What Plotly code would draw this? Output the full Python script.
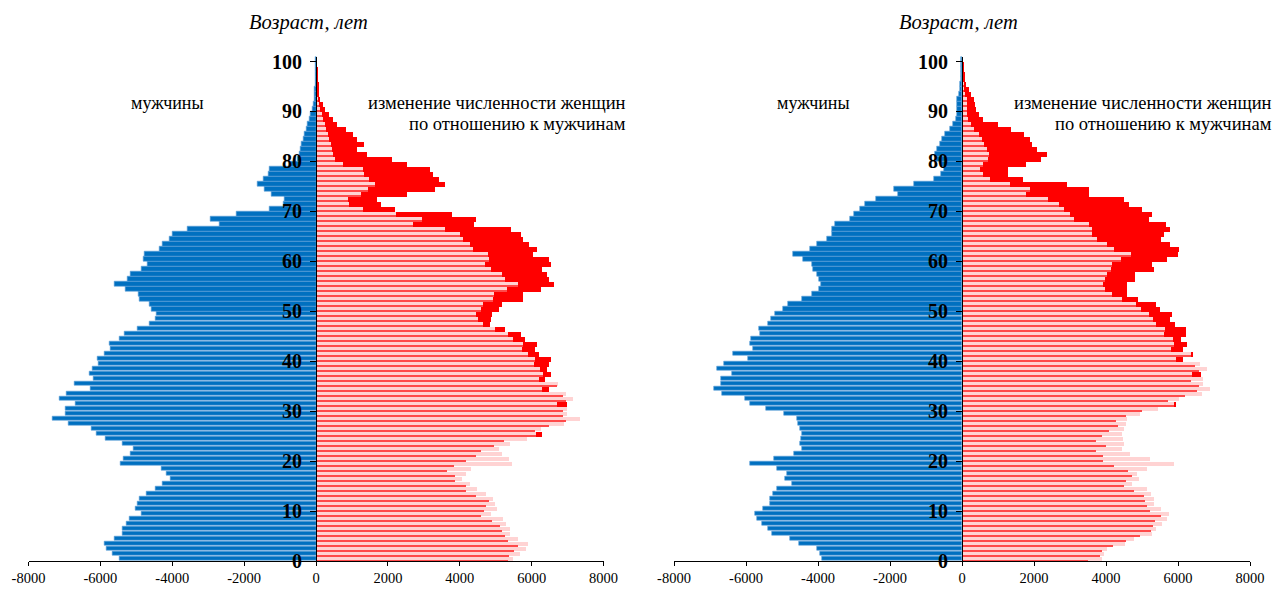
import plotly.graph_objects as go

ages = list(range(0, 101))

men_left = [5470, 5650, 5820, 5880, 5620, 5390, 5390, 5280, 5200, 4860,
            5020, 4960, 4900, 4730, 4460, 4280, 4060, 4170, 4290, 5450,
            5370, 5160, 5080, 5390, 5870, 6110, 6250, 6890, 7320, 6960,
            6980, 6690, 7150, 6950, 6280, 6730, 6190, 6300, 6210, 6050,
            6070, 5890, 5730, 5750, 5470, 5330, 4970, 4620, 4480, 4430,
            4570, 4630, 4900, 4950, 5310, 5600, 5250, 5150, 4850, 4690,
            4800, 4770, 4350, 4280, 4090, 3980, 3580, 2690, 2930, 2210,
            1300, 900, 880, 1250, 1440, 1620, 1460, 1330, 1300, 750,
            520, 460, 430, 390, 350, 310, 260, 230, 180, 150,
            110, 70, 55, 40, 30, 22, 15, 10, 7, 5, 3]

women_left = [5340, 5370, 5490, 5620, 5340, 5250, 5170, 5110, 4880, 4580,
              4660, 4710, 4790, 4430, 4150, 4150, 3860, 3860, 3640, 3830,
              4150, 4430, 4580, 4940, 5230, 6280, 6080, 6480, 6930, 6850,
              6870, 6960, 6930, 6850, 6480, 6700, 6360, 6530, 6400, 6480,
              6530, 6190, 6080, 6130, 5790, 5680, 5250, 4830, 4860, 4880,
              5080, 5170, 5740, 5740, 6250, 6610, 6480, 6400, 6280, 6530,
              6480, 6020, 6130, 5910, 5740, 5680, 5400, 4370, 4430, 3760,
              2190, 1790, 1690, 2510, 3290, 3580, 3420, 3250, 3150, 2530,
              2110, 1410, 1120, 1320, 1140, 1020, 830, 570, 450, 340,
              230, 170, 110, 80, 57, 45, 34, 25, 15, 10, 6]

men_right = [3890, 3940, 4030, 4540, 4790, 5270, 5380, 5560, 5690, 5760,
             5540, 5320, 5320, 5240, 5130, 4710, 4930, 4850, 5150, 5880,
             5210, 4670, 4450, 4510, 4470, 4450, 4510, 4560, 4590, 4950,
             5440, 5900, 6040, 6660, 6900, 6700, 6700, 6400, 6800, 6600,
             5940, 6370, 5800, 5880, 5850, 5610, 5630, 5400, 5300, 5200,
             4970, 4820, 4440, 4160, 3960, 3920, 3960, 4040, 4140, 4170,
             4420, 4700, 4220, 4020, 3760, 3620, 3620, 3540, 3110, 3000,
             2840, 2700, 2390, 1790, 1880, 1340, 770, 575, 490, 570,
             730, 740, 700, 620, 550, 480, 340, 260, 180, 150,
             140, 150, 130, 90, 60, 50, 40, 30, 25, 20, 15]

women_right = [3490, 3830, 3890, 4200, 4560, 4940, 5260, 5300, 5350, 5520,
               5220, 5130, 5070, 5050, 4770, 4490, 4560, 4710, 4600, 4230,
               3910, 3910, 3720, 4000, 3720, 3890, 4090, 4320, 4280, 4560,
               4990, 5940, 5730, 6200, 6540, 6570, 6370, 6650, 6590, 6480,
               6140, 6400, 6130, 6250, 6080, 6230, 6230, 5910, 5780, 5820,
               5500, 5400, 4880, 4570, 4570, 4570, 4800, 4800, 5320, 5290,
               5700, 5990, 6030, 5770, 5530, 5620, 5780, 5670, 5190, 5290,
               5000, 4650, 4500, 3540, 3540, 2910, 1690, 1270, 1290, 1790,
               2200, 2350, 2070, 1950, 1900, 1710, 1360, 1010, 590, 470,
               390, 370, 340, 260, 190, 110, 80, 56, 45, 35, 25]

x_ticks = [-8000, -6000, -4000, -2000, 0, 2000, 4000, 6000, 8000]
y_ticks = [0, 10, 20, 30, 40, 50, 60, 70, 80, 90, 100]

title_text = "Возраст, лет"
men_text = "мужчины"
women_text_1 = "изменение численности женщин"
women_text_2 = "по отношению к мужчинам"

BLUE = "#0070C0"
BLUE_EDGE = "#5E9FD8"
PINK = "#FFD3D3"
RED_LINE = "#FF4A4A"
RED = "#FF0000"
SERIF = "Liberation Serif"

fig = go.Figure()
ypos = [a + 0.5 for a in ages]


def add_pyramid(men, women, xa, ya):
    excess = [max(w - m, 0) for m, w in zip(men, women)]
    fig.add_trace(go.Bar(y=ypos, x=[-m for m in men], orientation="h",
                         marker=dict(color=BLUE,
                                     line=dict(width=0.6, color=BLUE_EDGE)),
                         width=0.9, offset=-0.45, xaxis=xa, yaxis=ya,
                         showlegend=False, hoverinfo="skip"))
    fig.add_trace(go.Bar(y=ypos, x=men, orientation="h",
                         marker=dict(color=PINK, line=dict(width=0)),
                         width=0.8, offset=-0.3, xaxis=xa, yaxis=ya,
                         showlegend=False, hoverinfo="skip"))
    fig.add_trace(go.Bar(y=ypos, x=women, orientation="h",
                         marker=dict(color=RED_LINE, line=dict(width=0)),
                         width=0.2, offset=-0.5, xaxis=xa, yaxis=ya,
                         showlegend=False, hoverinfo="skip"))
    fig.add_trace(go.Bar(y=ypos, x=excess, base=men, orientation="h",
                         marker=dict(color=RED, line=dict(width=0)),
                         width=1.0, offset=-0.5, xaxis=xa, yaxis=ya,
                         showlegend=False, hoverinfo="skip"))


add_pyramid(men_left, women_left, "x", "y")
add_pyramid(men_right, women_right, "x2", "y2")

W, H = 1276, 589


def px(X):
    return X / W


def py(Y):
    return 1 - Y / H


dom1 = [px(28.5), px(603.5)]
dom2 = [px(674), px(1250)]
ydom = [py(561), py(56.5)]

xcommon = dict(range=[-8000, 8000], tickvals=x_ticks,
               ticktext=[str(v) for v in x_ticks], showgrid=False,
               zeroline=False, showline=True, linecolor="black", linewidth=1,
               ticks="outside", ticklen=4, tickcolor="black",
               tickfont=dict(family=SERIF, size=14.5, color="black"),
               automargin=False, fixedrange=True)
xinner = dict(range=[-8000, 8000], tickvals=x_ticks, showgrid=False,
              zeroline=False, showline=False, ticks="inside", ticklen=4,
              tickcolor="black", showticklabels=False, automargin=False,
              fixedrange=True)
ycommon = dict(range=[0, 101], tickvals=y_ticks,
               ticktext=[str(v) for v in y_ticks], showgrid=False,
               zeroline=False, showline=True, linecolor="black", linewidth=1,
               ticks="outside", ticklen=6, tickcolor="black",
               ticklabelstandoff=4,
               tickfont=dict(family=SERIF, size=20, color="black",
                             weight="bold"),
               domain=ydom, automargin=False, fixedrange=True)
yinner = dict(range=[0, 101], tickvals=y_ticks, showgrid=False,
              zeroline=False, showline=False, ticks="inside", ticklen=6,
              tickcolor="black", showticklabels=False, domain=ydom,
              automargin=False, fixedrange=True)

pos1 = (dom1[0] + dom1[1]) / 2
pos2 = (dom2[0] + dom2[1]) / 2

fig.update_layout(
    width=W, height=H,
    margin=dict(l=0, r=0, t=0, b=0, autoexpand=False),
    paper_bgcolor="white", plot_bgcolor="rgba(0,0,0,0)",
    barmode="overlay", bargap=0, showlegend=False,
    xaxis=dict(domain=dom1, anchor="y", **xcommon),
    xaxis2=dict(domain=dom2, anchor="y2", **xcommon),
    xaxis3=dict(overlaying="x", anchor="y", **xinner),
    xaxis4=dict(overlaying="x2", anchor="y2", **xinner),
    yaxis=dict(anchor="free", position=pos1, **ycommon),
    yaxis2=dict(anchor="free", position=pos2, **ycommon),
    yaxis3=dict(overlaying="y", anchor="free", position=pos1, **yinner),
    yaxis4=dict(overlaying="y2", anchor="free", position=pos2, **yinner),
)


def ann(text, x, y, size, xanchor="center", italic=False):
    fig.add_annotation(text=text, x=px(x), y=py(y), xref="paper",
                       yref="paper", xanchor=xanchor, yanchor="middle",
                       showarrow=False,
                       font=dict(family=SERIF, size=size, color="black",
                                 style="italic" if italic else "normal"))


for cx, mx, rx in [(308, 167, 628), (958, 813, 1274)]:
    ann(title_text, cx, 22, 20.5, italic=True)
    ann(men_text, mx, 103, 18)
    ann(women_text_1, rx, 103, 18.5, xanchor="right")
    ann(women_text_2, rx, 124, 18.5, xanchor="right")

# remove the default page margin so the 1276x589 figure fills the window
page_css = ("document.documentElement.style.margin='0';"
            "document.documentElement.style.overflow='hidden';"
            "document.body.style.margin='0';"
            "document.body.style.overflow='hidden';")

fig.write_html("out.html", post_script=page_css,
               config={"displayModeBar": False})
